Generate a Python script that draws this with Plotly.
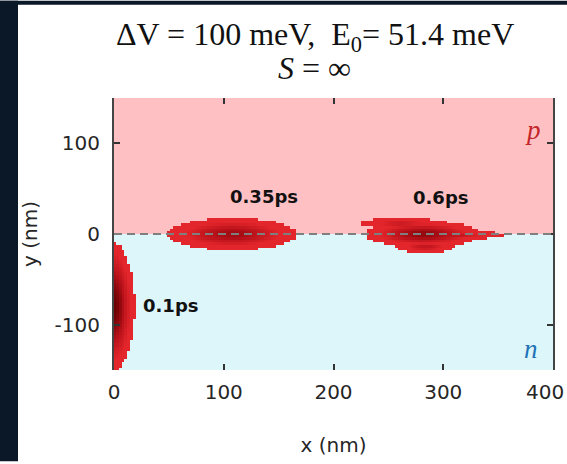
import numpy as np
import plotly.graph_objects as go

# Wave-packet snapshots: each packet built from one or more Gaussian lobes
# (centre x, centre y, width x, width y, peak) in nm
packet_times = ["0.1ps", "0.35ps", "0.6ps"]
lobe_packet = [0, 1, 2, 2, 2, 2]
lobe_cx = [-2.0, 108.0, 282.0, 300.0, 284.0, 262.0]
lobe_cy = [-80.0, 0.0, 0.0, -1.0, -14.0, 12.0]
lobe_sx = [13.5, 38.0, 34.0, 36.0, 17.0, 24.0]
lobe_sy = [46.0, 11.5, 9.5, 3.2, 4.5, 4.0]
lobe_peak = [1.0, 0.8, 0.85, 0.7, 0.65, 0.6]

# label anchor for each snapshot
label_x = [52, 137, 298]
label_y = [-79, 41, 40]

# region labels
region_names = ["p", "n"]
region_x = [382, 380]
region_y = [115, -127]

x_ticks = [0, 100, 200, 300, 400]
y_ticks = [-100, 0, 100]
y_tick_text = ["-100", "0", "100"]

X_RANGE = [0, 400]
Y_RANGE = [-150, 150]
CUT = 0.3

W, H = 567, 464
ML, MR, MT, MB = 114, 14, 98, 92
PW, PH = W - ML - MR, H - MT - MB


def px_to_paper_x(px):
    return (px - ML) / PW


def px_to_paper_y(py):
    return (H - MB - py) / PH


# sampling grid for the packet density
gx = np.arange(-10, 410, 2.6)
gy = np.arange(-151.5, 151.5, 3.0)
XX, YY = np.meshgrid(gx, gy)
Z = np.full(XX.shape, np.nan)
for p, cx, cy, sx, sy, a in zip(lobe_packet, lobe_cx, lobe_cy, lobe_sx, lobe_sy, lobe_peak):
    g = np.exp(-0.5 * (((XX - cx) / sx) ** 2 + ((YY - cy) / sy) ** 2))
    val = np.where(g >= CUT, a * g, np.nan)
    Z = np.fmax(Z, val)

fig = go.Figure()

fig.add_trace(go.Heatmap(
    x=gx, y=gy, z=Z, zmin=0, zmax=1, zsmooth=False,
    colorscale=[[0.0, "#e3262b"], [0.42, "#e3262b"], [0.72, "#b8111a"], [1.0, "#660000"]],
    showscale=False, hoverinfo="skip",
))

# p / n background regions
fig.add_shape(type="rect", xref="x", yref="y", x0=X_RANGE[0], x1=X_RANGE[1], y0=0, y1=Y_RANGE[1],
              fillcolor="#ffc0c3", line_width=0, layer="below")
fig.add_shape(type="rect", xref="x", yref="y", x0=X_RANGE[0], x1=X_RANGE[1], y0=Y_RANGE[0], y1=0,
              fillcolor="#dcf6f9", line_width=0, layer="below")
# junction
fig.add_shape(type="line", xref="x", yref="y", x0=X_RANGE[0], x1=X_RANGE[1], y0=0, y1=0,
              line=dict(color="#7f7f7f", width=2.2, dash="8px,5px"), layer="above")

for t, lx, ly in zip(packet_times, label_x, label_y):
    fig.add_annotation(x=lx, y=ly, text=f"<b>{t}</b>", showarrow=False,
                       font=dict(family="DejaVu Sans", size=18, color="#111111"))

region_colors = ["#c3262b", "#1f72b8"]
for name, rx, ry, c in zip(region_names, region_x, region_y, region_colors):
    fig.add_annotation(x=rx, y=ry, text=f"<i>{name}</i>", showarrow=False,
                       font=dict(family="Liberation Serif", size=27, color=c))

# two-line heading
fig.add_annotation(xref="paper", yref="paper", x=px_to_paper_x(315), y=px_to_paper_y(36),
                   yanchor="middle", text="ΔV = 100 meV,  E<sub>0</sub>= 51.4 meV",
                   showarrow=False, font=dict(family="Liberation Serif", size=32, color="#111111"))
fig.add_annotation(xref="paper", yref="paper", x=px_to_paper_x(314), y=px_to_paper_y(68),
                   yanchor="middle", text="<i>S</i> = ∞",
                   showarrow=False, font=dict(family="Liberation Serif", size=32, color="#111111"))

# last x tick label sits at the page edge; nudge it so it stays on the page
fig.add_annotation(xref="x", yref="paper", x=x_ticks[-1], y=0, xshift=-8, yshift=-22,
                   yanchor="middle", text=str(x_ticks[-1]), showarrow=False,
                   font=dict(family="DejaVu Sans", size=20, color="#262626"))

# dark frame on the left and top, kept inside the page
fig.add_shape(type="rect", xref="paper", yref="paper", x0=px_to_paper_x(0), x1=px_to_paper_x(18),
              y0=px_to_paper_y(H), y1=px_to_paper_y(0),
              fillcolor="#0b1828", line_width=0, layer="above")
fig.add_shape(type="rect", xref="paper", yref="paper", x0=px_to_paper_x(0), x1=px_to_paper_x(W),
              y0=px_to_paper_y(4), y1=px_to_paper_y(0),
              fillcolor="#0b1828", line_width=0, layer="above")

fig.update_xaxes(range=X_RANGE, tickvals=x_ticks, ticks="inside", ticklen=6, tickwidth=1.5,
                 tickcolor="#333333", mirror="ticks", showline=False, showgrid=False,
                 zeroline=False, ticklabelstandoff=8,
                 title=dict(text="x (nm)", standoff=34),
                 tickfont=dict(family="DejaVu Sans", size=20, color="#262626"),
                 title_font=dict(family="DejaVu Sans", size=20, color="#262626"))
fig.update_yaxes(range=Y_RANGE, tickvals=y_ticks, ticktext=y_tick_text, ticks="inside",
                 ticklen=6, tickwidth=1.5, tickcolor="#333333", mirror="ticks", showline=True,
                 linecolor="#444444", linewidth=2, showgrid=False, zeroline=False,
                 ticklabelstandoff=8,
                 title=dict(text="y (nm)", standoff=12),
                 tickfont=dict(family="DejaVu Sans", size=20, color="#262626"),
                 title_font=dict(family="DejaVu Sans", size=20, color="#262626"))

fig.update_layout(width=W, height=H, margin=dict(l=ML, r=MR, t=MT, b=MB),
                  paper_bgcolor="white", plot_bgcolor="white", showlegend=False)

fig.write_html("out.html")
